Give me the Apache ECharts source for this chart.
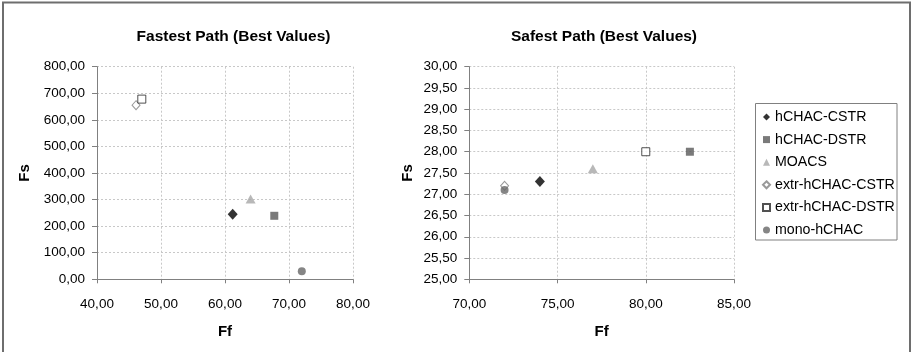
<!DOCTYPE html>
<html>
<head>
<meta charset="utf-8">
<script src="https://cdn.jsdelivr.net/npm/echarts@6/dist/echarts.min.js"></script>
<style>html,body{margin:0;padding:0;background:#fff;}#c{width:911px;height:352px;}</style>
</head>
<body>
<div id="c"></div>
<script>
var methods = ['hCHAC-CSTR', 'hCHAC-DSTR', 'MOACS', 'extr-hCHAC-CSTR', 'extr-hCHAC-DSTR', 'mono-hCHAC'];
var fastestFf = [61.2, 67.7, 64.0, 46.1, 47.0, 72.0];
var fastestFs = [245, 239, 302, 655, 678, 30];
var safestFf = [74.0, 82.5, 77.0, 72.0, 80.0, 72.0];
var safestFs = [27.3, 28.0, 27.6, 27.2, 28.0, 27.1];
var titles = ['Fastest Path (Best Values)', 'Safest Path (Best Values)'];
var xName = 'Ff', yName = 'Fs';

var FONT = '"Liberation Sans", Arial, sans-serif';
var styles = [
  {symbol: 'diamond', size: [10, 11], itemStyle: {color: '#000000'}},
  {symbol: 'rect', size: 8, itemStyle: {color: '#595959'}},
  {symbol: 'triangle', size: [10, 9], itemStyle: {color: '#a6a6a6'}},
  {symbol: 'diamond', size: [8, 9], itemStyle: {color: '#ffffff', borderColor: '#7f7f7f', borderWidth: 1}},
  {symbol: 'rect', size: 8, itemStyle: {color: '#ffffff', borderColor: '#262626', borderWidth: 1}},
  {symbol: 'circle', size: 8, itemStyle: {color: '#666666'}}
];
function fmt(v){ return v.toFixed(2).replace('.', ','); }
function xAxisCfg(idx, min, max, interval){
  return {gridIndex: idx, type: 'value', min: min, max: max, interval: interval,
    name: xName, nameLocation: 'middle', nameGap: 45,
    nameTextStyle: {fontFamily: FONT, fontSize: 15, fontWeight: 'bold', color: '#000'},
    axisLine: {show: true, onZero: false, lineStyle: {color: '#808080', width: 1}},
    axisTick: {show: true, length: 4, lineStyle: {color: '#808080'}},
    axisLabel: {fontFamily: FONT, fontSize: 13.5, color: '#000', margin: 17.5, formatter: fmt},
    splitLine: {show: true, lineStyle: {color: '#c8c8c8', type: [2, 2], width: 1}}
  };
}
function yAxisCfg(idx, min, max, interval, gap){
  return {gridIndex: idx, type: 'value', min: min, max: max, interval: interval,
    name: yName, nameLocation: 'middle', nameGap: gap, nameRotate: 90,
    nameTextStyle: {fontFamily: FONT, fontSize: 15, fontWeight: 'bold', color: '#000'},
    axisLine: {show: true, onZero: false, lineStyle: {color: '#808080', width: 1}},
    axisTick: {show: true, length: 5, lineStyle: {color: '#808080'}},
    axisLabel: {fontFamily: FONT, fontSize: 13.5, color: '#000', margin: 12, formatter: fmt},
    splitLine: {show: true, lineStyle: {color: '#c8c8c8', type: [2, 2], width: 1}}
  };
}
var series = [];
[[fastestFf, fastestFs], [safestFf, safestFs]].forEach(function(d, g){
  methods.forEach(function(m, i){
    series.push({
      type: 'scatter', name: m, xAxisIndex: g, yAxisIndex: g,
      symbol: styles[i].symbol, symbolSize: styles[i].size,
      itemStyle: styles[i].itemStyle, z: 2 + i,
      data: [[d[0][i], d[1][i]]],
      emphasis: {disabled: true}
    });
  });
});
var chart = echarts.init(document.getElementById('c'), null, {renderer: 'canvas'});
chart.setOption({
  animation: false,
  backgroundColor: '#ffffff',
  title: [
    {text: titles[0], left: 233.5, top: 29, textAlign: 'center', padding: 0,
     textStyle: {fontFamily: FONT, fontSize: 15.5, fontWeight: 'bold', color: '#000'}},
    {text: titles[1], left: 604, top: 29, textAlign: 'center', padding: 0,
     textStyle: {fontFamily: FONT, fontSize: 15.5, fontWeight: 'bold', color: '#000'}}
  ],
  grid: [
    {left: 97, top: 66.7, width: 256, height: 212.6},
    {left: 469.3, top: 66.7, width: 264.7, height: 212.6}
  ],
  xAxis: [xAxisCfg(0, 40, 80, 10), xAxisCfg(1, 70, 85, 5)],
  yAxis: [yAxisCfg(0, 0, 800, 100, 65), yAxisCfg(1, 25, 30, 0.5, 54)],
  legend: {
    orient: 'vertical', left: 762, top: 109, padding: 0,
    itemWidth: 7, itemHeight: 7, itemGap: 6.6,
    data: methods,
    textStyle: {fontFamily: FONT, fontSize: 14.2, color: '#000', lineHeight: 16}
  },
  graphic: [
    {type: 'rect', silent: true, shape: {x: 3, y: 2.5, width: 907, height: 400},
     style: {fill: 'none', stroke: '#6e6e6e', lineWidth: 2}},
    {type: 'rect', silent: true, shape: {x: 755.5, y: 103.5, width: 141.5, height: 136.5},
     style: {fill: 'none', stroke: '#808080', lineWidth: 1}}
  ],
  series: series
});
</script>
</body>
</html>
